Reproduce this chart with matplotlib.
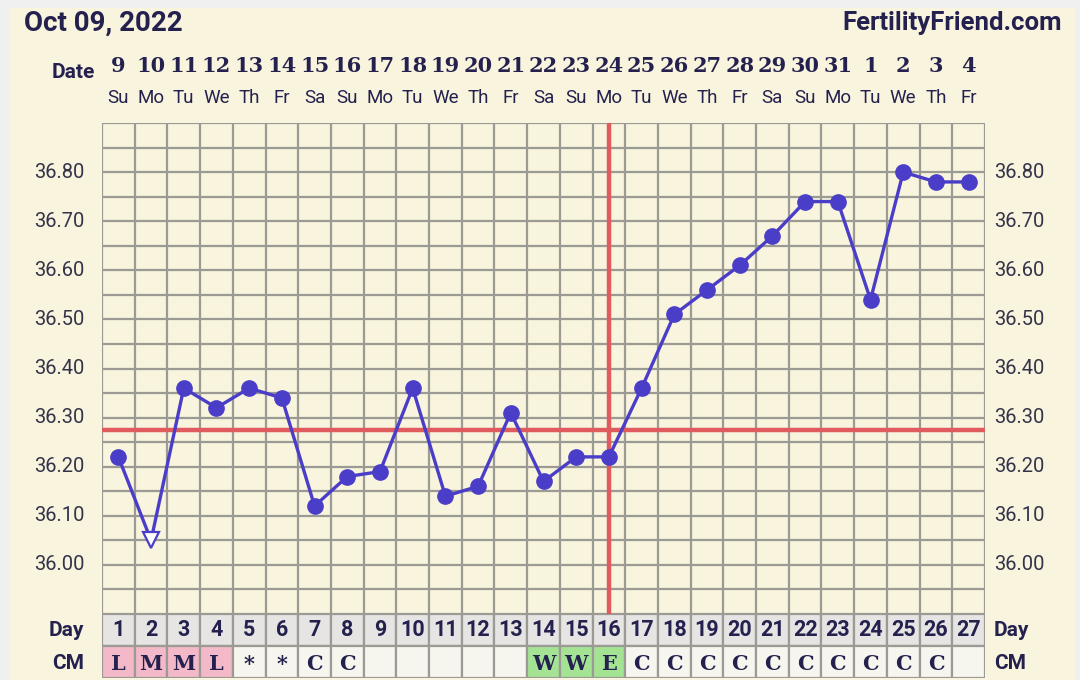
import matplotlib.pyplot as plt
from matplotlib.patches import Rectangle

# chart data
dates = ['9', '10', '11', '12', '13', '14', '15', '16', '17', '18', '19', '20', '21', '22',
         '23', '24', '25', '26', '27', '28', '29', '30', '31', '1', '2', '3', '4']
weekdays = ['Su', 'Mo', 'Tu', 'We', 'Th', 'Fr', 'Sa', 'Su', 'Mo', 'Tu', 'We', 'Th', 'Fr', 'Sa',
            'Su', 'Mo', 'Tu', 'We', 'Th', 'Fr', 'Sa', 'Su', 'Mo', 'Tu', 'We', 'Th', 'Fr']
days = list(range(1, 28))
temps = [36.22, 36.05, 36.36, 36.32, 36.36, 36.34, 36.12, 36.18, 36.19, 36.36, 36.14, 36.16,
         36.31, 36.17, 36.22, 36.22, 36.36, 36.51, 36.56, 36.61, 36.67, 36.74, 36.74, 36.54,
         36.80, 36.78, 36.78]
discarded = [2]
cm = ['L', 'M', 'M', 'L', '*', '*', 'C', 'C', '', '', '', '', '', 'W', 'W', 'E',
      'C', 'C', 'C', 'C', 'C', 'C', 'C', 'C', 'C', 'C', '']
cm_colors = {'L': '#f4b9c9', 'M': '#f4b9c9', 'W': '#a4e394', 'E': '#a4e394'}
coverline = 36.275
ovulation_day = 16
ytick_vals = [36.0, 36.1, 36.2, 36.3, 36.4, 36.5, 36.6, 36.7, 36.8]

BG = '#f8f4dd'
INK = '#25214f'
LINE = '#4a3ec8'
RED = '#df5b5e'
GRID = '#9b9a94'

fig = plt.figure(figsize=(10.8, 6.8), dpi=100)
fig.patch.set_facecolor('#f0f0f0')
fig.patches.append(Rectangle((10 / 1080, 0), 1065 / 1080, 672 / 680, transform=fig.transFigure,
                             facecolor=BG, edgecolor='none', zorder=-10))

L, R = 102 / 1080, 985 / 1080
ax = fig.add_axes([L, 1 - 614 / 680, R - L, (614 - 123) / 680])
ax.set_facecolor(BG)
ax.set_xlim(0.5, 27.5)
ax.set_ylim(35.90, 36.90)

# grid
for i in range(28):
    ax.axvline(i + 0.5, color=GRID, lw=1.6, zorder=1)
for k in range(21):
    ax.axhline(35.90 + k * 0.05, color=GRID, lw=1.6, zorder=1)
for s in ax.spines.values():
    s.set_visible(False)
ax.set_xticks([])
ax.set_yticks([])

# coverline and ovulation
ax.axhline(coverline, color=RED, lw=3.2, zorder=2)
ax.axvline(ovulation_day, color=RED, lw=3.2, zorder=2)

# temperatures
ax.plot(days, temps, color=LINE, lw=2.4, zorder=3)
keep = [d for d in days if d not in discarded]
ax.plot(keep, [temps[d - 1] for d in keep], 'o', color=LINE, ms=11, zorder=4)
ax.plot(discarded, [temps[d - 1] for d in discarded], 'v', mfc='white', mec=LINE,
        mew=1.6, ms=12, zorder=4)

for v in ytick_vals:
    ax.text(-0.02, v, f'{v:.2f}', transform=ax.get_yaxis_transform(), ha='right', va='center',
            fontsize=14.5, color='#34334a', family='Roboto')
    ax.text(1.01, v, f'{v:.2f}', transform=ax.get_yaxis_transform(), ha='left', va='center',
            fontsize=14.5, color='#34334a', family='Roboto')

# date header
ht = ax.get_xaxis_transform()
for d, dt, wd in zip(days, dates, weekdays):
    ax.annotate(dt, (d, 1), xycoords=ht, xytext=(0, 57), textcoords='offset pixels',
                ha='center', va='center', fontsize=15, fontweight='bold', color=INK,
                family='DejaVu Serif')
    ax.annotate(wd, (d, 1), xycoords=ht, xytext=(0, 25), textcoords='offset pixels',
                ha='center', va='center', fontsize=13.5, color=INK, family='Roboto')
fig.text(95 / 1080, 1 - 72 / 680, 'Date', ha='right', va='center', fontsize=15,
         fontweight='bold', color=INK, family='Roboto')
fig.text(24 / 1080, 1 - 23 / 680, 'Oct 09, 2022', ha='left', va='center', fontsize=20,
         fontweight='bold', color=INK, family='Roboto')
fig.text(1062 / 1080, 1 - 23 / 680, 'FertilityFriend.com', ha='right', va='center',
         fontsize=18.5, fontweight='bold', color=INK, family='Roboto')

# day / CM rows
tb = fig.add_axes([L, 1 - 678 / 680, R - L, (678 - 614) / 680])
tb.set_xlim(0.5, 27.5)
tb.set_ylim(0, 2)
tb.axis('off')
for d in days:
    tb.add_patch(Rectangle((d - 0.5, 1), 1, 1, facecolor='#e6e5e3', edgecolor=GRID, lw=1.6))
    tb.add_patch(Rectangle((d - 0.5, 0), 1, 1, facecolor=cm_colors.get(cm[d - 1], '#f7f6ee'),
                           edgecolor=GRID, lw=1.6))
    tb.text(d, 1.5, str(d), ha='center', va='center', fontsize=15.5, fontweight='bold',
            color=INK, family='Roboto')
    tb.text(d, 0.45, cm[d - 1], ha='center', va='center', fontsize=15, fontweight='bold',
            color=INK, family='DejaVu Serif')
for y, lab in [(1.5, 'Day'), (0.45, 'CM')]:
    tb.text(-0.02, y, lab, transform=tb.get_yaxis_transform(), ha='right', va='center',
            fontsize=15, fontweight='bold', color=INK, family='Roboto')
    tb.text(1.01, y, lab, transform=tb.get_yaxis_transform(), ha='left', va='center',
            fontsize=15, fontweight='bold', color=INK, family='Roboto')

fig.savefig('out.png', dpi=100, facecolor=fig.get_facecolor())
